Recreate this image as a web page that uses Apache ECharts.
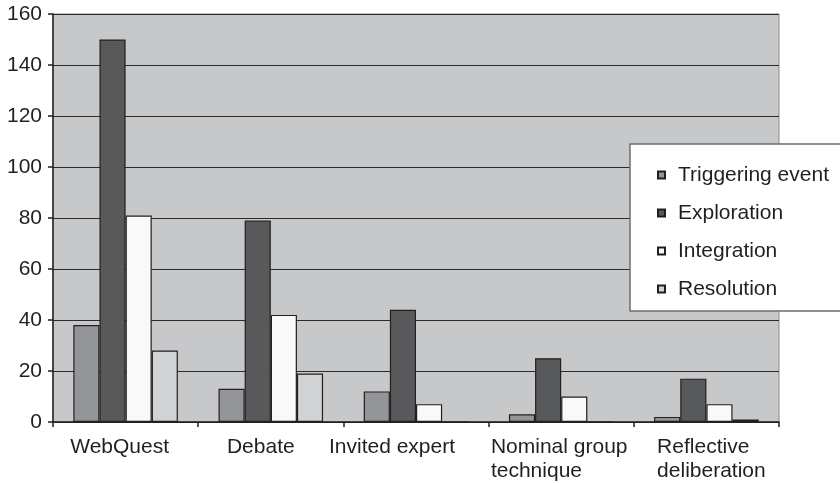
<!DOCTYPE html>
<html>
<head>
<meta charset="utf-8">
<script src="https://cdn.jsdelivr.net/npm/echarts@6/dist/echarts.min.js"></script>
<style>html,body{margin:0;padding:0;background:#fff}#c{width:840px;height:483px}</style>
</head>
<body>
<div id="c"></div>
<script>
var categories = ['WebQuest', 'Debate', 'Invited expert', 'Nominal group\ntechnique', 'Reflective\ndeliberation'];
var seriesNames = ['Triggering event', 'Exploration', 'Integration', 'Resolution'];
var triggering = [38, 13, 12, 3, 2];
var exploration = [150, 79, 44, 25, 17];
var integration = [81, 42, 7, 10, 7];
var resolution = [28, 19, 0, 0, 1];
var yTicks = [0, 20, 40, 60, 80, 100, 120, 140, 160];

// label style: leftward shift (px) of each category label, as in the original layout
var labelShift = [6, 10, 24, 2, -5];

var colors = ['#939598', '#58595b', '#f9f9f9', '#d1d2d4'];
var values = [triggering, exploration, integration, resolution];
var font = "'Liberation Sans', Arial, sans-serif";
var textColor = '#231f20';

var chart = echarts.init(document.getElementById('c'), null, {renderer: 'canvas'});
chart.setOption({
  animation: false,
  textStyle: {fontFamily: font},
  grid: {
    left: 53, top: 14, right: 61, bottom: 58,
    show: true, backgroundColor: '#c7c8ca', borderColor: '#8a8b8d', borderWidth: 1
  },
  legend: {
    orient: 'vertical',
    left: 630, top: 144,
    padding: [19, 30, 10, 27],
    backgroundColor: '#ffffff',
    borderColor: '#6d6e70',
    borderWidth: 1.5,
    itemWidth: 7, itemHeight: 7,
    itemGap: 14,
    icon: 'rect',
    textStyle: {fontSize: 21, color: textColor, fontFamily: font, lineHeight: 24, padding: [0, 0, 0, 8]},
    data: seriesNames
  },
  xAxis: {
    type: 'category',
    data: categories.map(function (c, i) {
      var s = labelShift[i];
      return {value: c, textStyle: {padding: [0, Math.max(0, 2 * s), 0, Math.max(0, -2 * s)]}};
    }),
    axisLine: {lineStyle: {color: textColor, width: 1.5}},
    axisTick: {show: true, length: 5, lineStyle: {color: textColor, width: 1.5}},
    axisLabel: {
      fontSize: 21, color: textColor, margin: 13, lineHeight: 24, interval: 0,
      formatter: function (v) {
        return v.split('\n').map(function (s) { return '{a|' + s + '}'; }).join('\n');
      },
      rich: {a: {align: 'left', fontSize: 21, color: textColor, lineHeight: 24, fontFamily: font}}
    },
    splitLine: {show: false}
  },
  yAxis: {
    type: 'value',
    min: yTicks[0], max: yTicks[yTicks.length - 1], interval: yTicks[1] - yTicks[0],
    axisLine: {show: true, lineStyle: {color: textColor, width: 1.5}},
    axisTick: {show: true, length: 5, lineStyle: {color: textColor, width: 1.5}},
    axisLabel: {fontSize: 21, color: textColor, margin: 11, padding: [6, 0, 0, 0]},
    splitLine: {lineStyle: {color: '#2b2b2b', width: 1.2}}
  },
  series: seriesNames.map(function (name, i) {
    return {
      name: name,
      type: 'bar',
      data: values[i],
      barGap: '0%',
      barCategoryGap: '28%',
      itemStyle: {color: colors[i], borderColor: '#231f20', borderWidth: 1.2}
    };
  })
});
</script>
</body>
</html>
